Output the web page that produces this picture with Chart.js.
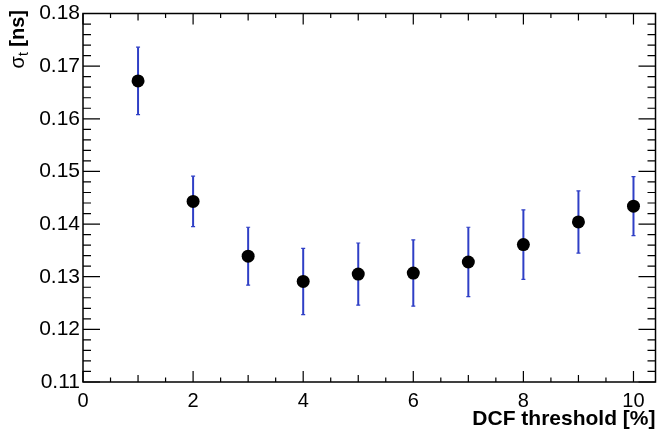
<!DOCTYPE html>
<html>
<head>
<meta charset="utf-8">
<script src="https://cdn.jsdelivr.net/npm/chart.js@4"></script>
<style>
  html, body { margin: 0; padding: 0; background: #fff; }
  #wrap { width: 662px; height: 432px; }
</style>
</head>
<body>
<div id="wrap"><canvas id="c" width="662" height="432"></canvas></div>
<script>
// ---- data ----
const dcfThreshold = [1, 2, 3, 4, 5, 6, 7, 8, 9, 10];
const sigmaT = [0.1672, 0.1443, 0.1339, 0.1291, 0.1305, 0.1307, 0.1328, 0.1361, 0.1404, 0.1434];
const sigmaErr = [0.0064, 0.0048, 0.0055, 0.0063, 0.0059, 0.0063, 0.0066, 0.0066, 0.0059, 0.0056];
const xTickValues = [0, 2, 4, 6, 8, 10];
const yTickValues = [0.11, 0.12, 0.13, 0.14, 0.15, 0.16, 0.17, 0.18];
const xTitle = 'DCF threshold [%]';
const yTitleMain = 'σ';
const yTitleSub = 't';
const yTitleUnit = ' [ns]';

const FONT = '"Liberation Sans", Arial, Helvetica, sans-serif';

const errorBars = {
  id: 'errorBars',
  beforeDatasetsDraw(chart) {
    const { ctx, scales: { x, y } } = chart;
    ctx.save();
    ctx.strokeStyle = '#2f3fc6';
    ctx.lineWidth = 2;
    for (let i = 0; i < dcfThreshold.length; i++) {
      const px = x.getPixelForValue(dcfThreshold[i]);
      const top = y.getPixelForValue(sigmaT[i] + sigmaErr[i]);
      const bot = y.getPixelForValue(sigmaT[i] - sigmaErr[i]);
      ctx.beginPath();
      ctx.moveTo(px, top); ctx.lineTo(px, bot);
      ctx.stroke();
      ctx.lineWidth = 1.2;
      ctx.beginPath();
      ctx.moveTo(px - 2, top); ctx.lineTo(px + 2, top);
      ctx.moveTo(px - 2, bot); ctx.lineTo(px + 2, bot);
      ctx.stroke();
      ctx.lineWidth = 2;
    }
    ctx.restore();
  }
};

const frameAndTicks = {
  id: 'frameAndTicks',
  afterDraw(chart) {
    const { ctx, chartArea: a, scales: { x, y } } = chart;
    ctx.save();
    ctx.strokeStyle = '#000';
    ctx.lineWidth = 1.5;
    ctx.strokeRect(a.left, a.top, a.right - a.left, a.bottom - a.top);
    ctx.lineWidth = 1.2;
    ctx.beginPath();
    // x ticks (bottom and top, pointing inward)
    for (let k = 0; k * 0.5 <= x.max + 1e-9; k++) {
      const v = k * 0.5;
      const px = x.getPixelForValue(v);
      let len = 4.5;
      if (k % 4 === 0) len = 11; else if (k % 2 === 0) len = 7;
      ctx.moveTo(px, a.bottom); ctx.lineTo(px, a.bottom - len);
      ctx.moveTo(px, a.top); ctx.lineTo(px, a.top + len);
    }
    // y ticks (left and right, pointing inward)
    for (let k = 0; k <= 35; k++) {
      const v = y.min + k * 0.002;
      const py = y.getPixelForValue(v);
      const len = (k % 5 === 0) ? 17 : 8;
      ctx.moveTo(a.left, py); ctx.lineTo(a.left + len, py);
      ctx.moveTo(a.right, py); ctx.lineTo(a.right - len, py);
    }
    ctx.stroke();

    // y-axis title with subscript
    const mainFont = '20px ' + FONT;
    const subFont = '14px ' + FONT;
    const unitFont = 'bold 20px ' + FONT;
    ctx.font = mainFont; const w1 = ctx.measureText(yTitleMain).width;
    ctx.font = subFont; const w2 = ctx.measureText(yTitleSub).width;
    ctx.font = unitFont; const w3 = ctx.measureText(yTitleUnit).width;
    const endY = 10;
    const startY = endY + w1 + w2 + w3;
    ctx.translate(24, startY);
    ctx.rotate(-Math.PI / 2);
    ctx.fillStyle = '#000';
    ctx.textBaseline = 'alphabetic';
    ctx.textAlign = 'left';
    ctx.font = mainFont; ctx.fillText(yTitleMain, 0, 0);
    ctx.font = subFont; ctx.fillText(yTitleSub, w1, 4);
    ctx.font = unitFont; ctx.fillText(yTitleUnit, w1 + w2, 0);
    ctx.restore();
  }
};

new Chart(document.getElementById('c'), {
  type: 'scatter',
  data: {
    datasets: [{
      data: dcfThreshold.map((v, i) => ({ x: v, y: sigmaT[i] })),
      backgroundColor: '#000',
      borderColor: '#000',
      borderWidth: 0,
      pointRadius: 6.5,
      pointHoverRadius: 6.5
    }]
  },
  options: {
    responsive: false,
    animation: false,
    devicePixelRatio: 1,
    layout: { padding: { top: 12, right: 2, left: 0, bottom: 0 } },
    plugins: { legend: { display: false }, tooltip: { enabled: false } },
    scales: {
      x: {
        type: 'linear',
        min: 0,
        max: 10.4,
        afterBuildTicks: s => { s.ticks = xTickValues.map(v => ({ value: v })); },
        afterFit: s => { s.height = 50; },
        grid: { display: false, drawTicks: false },
        border: { display: false },
        ticks: {
          color: '#000',
          font: { family: FONT, size: 20, lineHeight: 1 },
          padding: 9,
          maxRotation: 0,
          autoSkip: false,
          callback: v => String(v)
        },
        title: {
          display: true,
          text: xTitle,
          align: 'end',
          color: '#000',
          font: { family: FONT, size: 21, weight: 'bold', lineHeight: 1.2 },
          padding: { top: 0, bottom: 0 }
        }
      },
      y: {
        type: 'linear',
        min: 0.11,
        max: 0.18,
        afterBuildTicks: s => { s.ticks = yTickValues.map(v => ({ value: v })); },
        afterFit: s => { s.width = 83; },
        grid: { display: false, drawTicks: false },
        border: { display: false },
        ticks: {
          color: '#000',
          font: { family: FONT, size: 21, lineHeight: 1 },
          padding: 3,
          callback: v => Number(v).toFixed(2)
        }
      }
    }
  },
  plugins: [errorBars, frameAndTicks]
});
</script>
</body>
</html>
